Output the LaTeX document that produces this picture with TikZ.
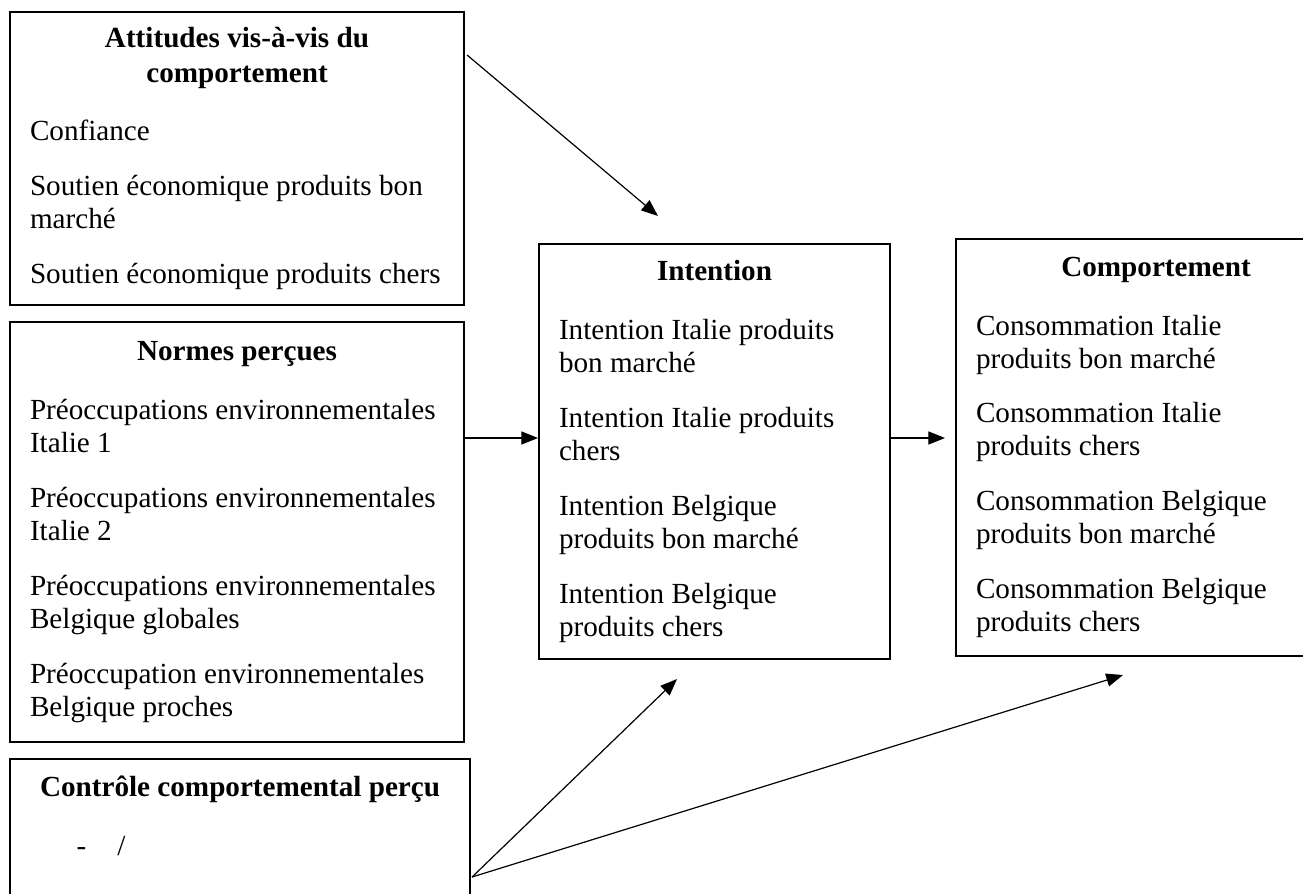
\documentclass[tikz,border=0pt]{standalone}
\usepackage{fontspec}
\setmainfont{Liberation Serif}
\usetikzlibrary{arrows.meta,positioning,calc}
\newcommand{\px}{0.4184pt}
\newcommand{\boxtext}[3]{\parbox{#1}{{\centering\bfseries\baselineskip=14.6pt #2\par}\vspace{10.8pt}\raggedright #3}}

\begin{document}
\begin{tikzpicture}[x=\px, y=-\px,
  box/.style={draw, line width=0.85pt, anchor=north west,
    inner xsep=8.37pt, inner ysep=4pt, font=\fontsize{12.2}{13.8}\selectfont},
  arr/.style={-{Triangle[length=7pt,width=5.5pt]}, line width=0.5pt}]
\useasboundingbox (0,0) rectangle (1303,893);
\clip (0,0) rectangle (1303,893);

% the three boxes on the left
\node[box, minimum width=189.95pt, minimum height=122.59pt] (att) at (9,11)
  {\boxtext{173.22pt}{Attitudes vis-à-vis du\\comportement}{Confiance\\[9.2pt]
   Soutien économique produits bon\\marché\\[9.2pt]
   Soutien économique produits chers}};
\node[box, minimum width=189.95pt, minimum height=175.73pt] (norm) at (9,321)
  {\boxtext{173.22pt}{Normes perçues}{Préoccupations environnementales\\Italie 1\\[9.2pt]
   Préoccupations environnementales\\Italie 2\\[9.2pt]
   Préoccupations environnementales\\Belgique globales\\[9.2pt]
   Préoccupation environnementales\\Belgique proches}};
\node[box, inner ysep=7.1pt, minimum width=192.46pt] (ctrl) at (9,758)
  {\boxtext{175.73pt}{Contrôle comportemental perçu}{\hspace*{19.5pt}-\hspace{13pt}/\\[20pt]\mbox{}}};

% intention and behaviour
\node[box, minimum width=146.86pt, minimum height=173.64pt] (int) at (538,243)
  {\boxtext{130.12pt}{Intention}{Intention Italie produits\\bon marché\\[9.2pt]
   Intention Italie produits\\chers\\[9.2pt]
   Intention Belgique\\produits bon marché\\[9.2pt]
   Intention Belgique\\produits chers}};
\node[box, minimum width=167.36pt, minimum height=174.47pt] (comp) at (955,238)
  {\boxtext{150.62pt}{Comportement}{Consommation Italie\\produits bon marché\\[9.2pt]
   Consommation Italie\\produits chers\\[9.2pt]
   Consommation Belgique\\produits bon marché\\[9.2pt]
   Consommation Belgique\\produits chers}};

% arrows
\coordinate (s1) at ($(att.north east)+(2,44)$);
\coordinate (t1) at ($(int.north west)+(120,-27)$);
\draw[arr] (s1) -- (t1);
\coordinate (mid) at ($(norm.north east)+(0,117)$);
\draw[arr] (mid) -- (mid -| int.west);
\coordinate (t2) at ($(mid -| comp.west)+(-10,0)$);
\draw[arr] (mid -| int.east) -- (t2);
\coordinate (s2) at ($(ctrl.north east)+(1,119)$);
\coordinate (t3) at ($(int.south west)+(139,19)$);
\coordinate (t4) at ($(comp.south west)+(168,18)$);
\draw[arr] (s2) -- (t3);
\draw[arr] (s2) -- (t4);
\end{tikzpicture}
\end{document}
